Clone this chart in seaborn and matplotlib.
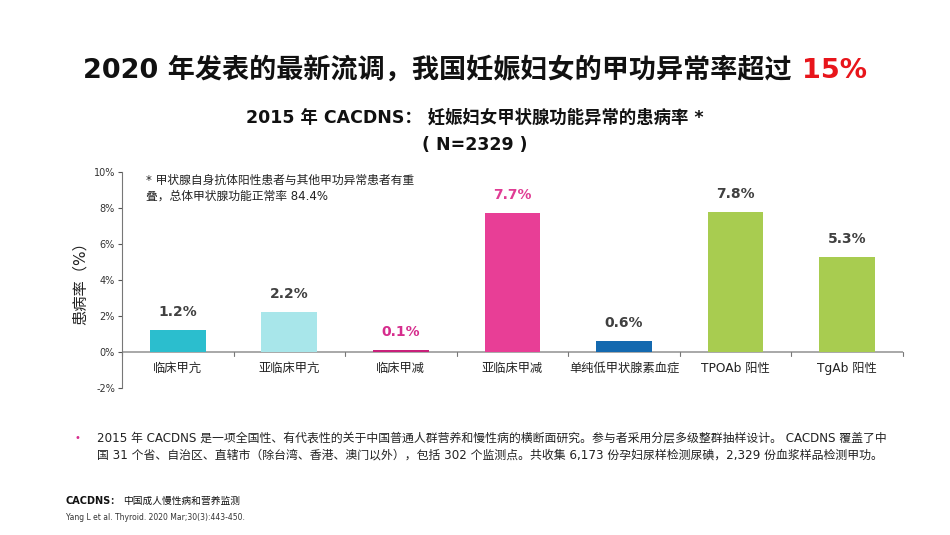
import matplotlib
matplotlib.use("Agg")
import matplotlib.pyplot as plt
import seaborn as sns
import pandas as pd

categories = ["临床甲亢", "亚临床甲亢", "临床甲减", "亚临床甲减", "单纯低甲状腺素血症", "TPOAb 阳性", "TgAb 阳性"]
values = [1.2, 2.2, 0.1, 7.7, 0.6, 7.8, 5.3]
bar_colors = ["#2BBECE", "#A8E6EA", "#C8207A", "#E83E96", "#1469AF", "#A8CC50", "#A8CC50"]
label_colors = ["#404040", "#404040", "#D62D8D", "#E03C94", "#404040", "#404040", "#404040"]
yticks = [-2, 0, 2, 4, 6, 8, 10]

sns.set_theme(style="white")
plt.rcParams['font.family'] = ['DejaVu Sans', 'Noto Sans CJK SC']
plt.rcParams['axes.unicode_minus'] = False

fig = plt.figure(figsize=(9.5, 5.35), dpi=100)
ax = fig.add_axes([0.1284, 0.2748, 0.822, 0.4037])

df = pd.DataFrame({"cat": categories, "val": values})
sns.barplot(data=df, x="cat", y="val", hue="cat", palette=bar_colors, width=0.5,
            legend=False, ax=ax, saturation=1, dodge=False, zorder=3,
            linewidth=0, edgecolor="none")

ax.set_ylim(-2, 10)
ax.set_xlim(-0.5, len(categories) - 0.5)
ax.set_yticks(yticks)
ax.set_yticklabels([f"{t}%" for t in yticks], fontsize=7, color="#333333")
ax.tick_params(axis="y", length=3, width=0.8, color="#555555", pad=2, left=True)
ax.tick_params(axis="x", length=0, pad=0)
ax.set_xticks([])
for s in ["top", "right", "bottom"]:
    ax.spines[s].set_visible(False)
ax.spines["left"].set_color("#777777")
ax.spines["left"].set_linewidth(0.8)
ax.axhline(0, color="#999999", lw=1.2, zorder=1)
for i in range(len(categories) + 1):
    ax.plot([i - 0.5, i - 0.5], [0, -0.2], color="#777777", lw=0.8, clip_on=False, zorder=1)
for i, c in enumerate(categories):
    ax.text(i, -0.55, c, ha="center", va="top", fontsize=8.8, color="#222222")
for i, (v, lc) in enumerate(zip(values, label_colors)):
    ax.text(i, v + 1.0, f"{v}%", ha="center", va="center", fontsize=10, fontweight="bold", color=lc)

ax.set_xlabel("")
ax.set_ylabel("患病率（%）", fontsize=11, color="#222222", labelpad=4)

ax.text(-0.285, 9.9, "* 甲状腺自身抗体阳性患者与其他甲功异常患者有重\n叠，总体甲状腺功能正常率 84.4%",
        ha="left", va="top", fontsize=8.5, color="#222222", linespacing=1.25)

# Title
t1 = fig.text(0.0, 0, "2020 年发表的最新流调，我国妊娠妇女的甲功异常率超过 ", fontsize=19.5, fontweight="bold", color="#111111")
t2 = fig.text(0.0, 0, "15%", fontsize=19.5, fontweight="bold", color="#E8151B")
fig.canvas.draw()
r = fig.canvas.get_renderer()
w1 = t1.get_window_extent(r).width
w2 = t2.get_window_extent(r).width
total = w1 + w2
x0 = (950 - total) / 2 / 950
ytitle = 1 - 78 / 535
t1.set_position((x0, ytitle))
t2.set_position((x0 + w1 / 950, ytitle))

fig.text(0.5, 1 - 118 / 535, "2015 年 CACDNS： 妊娠妇女甲状腺功能异常的患病率 *", ha="center", va="center",
         fontsize=12.5, fontweight="bold", color="#111111")
fig.text(0.5, 1 - 145 / 535, "( N=2329 )", ha="center", va="center",
         fontsize=12.5, fontweight="bold", color="#111111")

fig.text(74 / 950, 1 - 438 / 535, "•", ha="left", va="center", fontsize=7, color="#D62D8D")
fig.text(97 / 950, 1 - 438 / 535,
         "2015 年 CACDNS 是一项全国性、有代表性的关于中国普通人群营养和慢性病的横断面研究。参与者采用分层多级整群抽样设计。 CACDNS 覆盖了中",
         ha="left", va="center", fontsize=8.55, color="#222222")
fig.text(97 / 950, 1 - 455 / 535,
         "国 31 个省、自治区、直辖市（除台湾、香港、澳门以外），包括 302 个监测点。共收集 6,173 份孕妇尿样检测尿碘，2,329 份血浆样品检测甲功。",
         ha="left", va="center", fontsize=8.55, color="#222222")

f1 = fig.text(66 / 950, 1 - 501 / 535, "CACDNS：", ha="left", va="center", fontsize=7, fontweight="bold", color="#111111")
fig.canvas.draw()
wf = f1.get_window_extent(fig.canvas.get_renderer()).width
fig.text((66 + wf + 2) / 950, 1 - 501 / 535, "中国成人慢性病和营养监测", ha="left", va="center", fontsize=7, color="#111111")
fig.text(66 / 950, 1 - 517 / 535, "Yang L et al. Thyroid. 2020 Mar;30(3):443-450.", ha="left", va="center",
         fontsize=5.5, color="#333333")

fig.savefig("out.png", dpi=100)
